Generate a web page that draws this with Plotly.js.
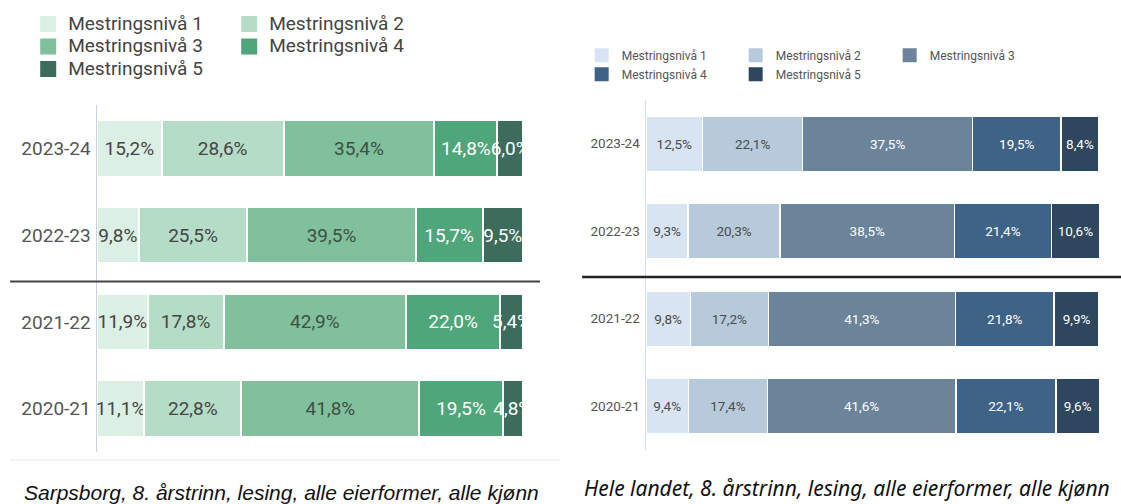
<!DOCTYPE html>
<html>
<head>
<meta charset="utf-8">
<script src="https://cdn.plot.ly/plotly-3.0.1.min.js"></script>
<style>
  html, body { margin: 0; padding: 0; background: #fff; width: 1121px; height: 504px; overflow: hidden; }
  #left { position: absolute; left: 0; top: 0; width: 560px; height: 504px; }
  #right { position: absolute; left: 560px; top: 0; width: 561px; height: 504px; }
</style>
</head>
<body>
<div id="left"></div>
<div id="right"></div>
<script>
// ---- data ----
var years = ['2023-24', '2022-23', '2021-22', '2020-21'];
var levelNames = ['Mestringsnivå 1', 'Mestringsnivå 2', 'Mestringsnivå 3', 'Mestringsnivå 4', 'Mestringsnivå 5'];

// Sarpsborg (per year, levels 1..5 as separate series)
var sarpL1 = [15.2, 9.8, 11.9, 11.1];
var sarpL2 = [28.6, 25.5, 17.8, 22.8];
var sarpL3 = [35.4, 39.5, 42.9, 41.8];
var sarpL4 = [14.8, 15.7, 22.0, 19.5];
var sarpL5 = [6.0, 9.5, 5.4, 4.8];

// Hele landet
var landL1 = [12.5, 9.3, 9.8, 9.4];
var landL2 = [22.1, 20.3, 17.2, 17.4];
var landL3 = [37.5, 38.5, 41.3, 41.6];
var landL4 = [19.5, 21.4, 21.8, 22.1];
var landL5 = [8.4, 10.6, 9.9, 9.6];

var leftCaption = 'Sarpsborg, 8. årstrinn, lesing, alle eierformer, alle kjønn';
var rightCaption = 'Hele landet, 8. årstrinn, lesing, alle eierformer, alle kjønn';

// ---- styles ----
var greenColors = ['#dcefe4', '#b4dcc6', '#80c09d', '#4fa67b', '#3c6c5c'];
var greenText = ['#454545', '#454545', '#3f4f46', '#ffffff', '#ffffff'];
var blueColors = ['#d8e4f1', '#b7cadb', '#6b8499', '#3f6386', '#2e465e'];
var blueText = ['#4a4a4a', '#4a4a4a', '#ffffff', '#ffffff', '#ffffff'];

function makeTraces(series, colors, textColors, fontSize, lineW, swatch, legendTextSize) {
  var bars = series.map(function (vals, i) {
    return {
      type: 'bar',
      orientation: 'h',
      name: levelNames[i],
      legendgroup: 'l' + i,
      showlegend: false,
      x: vals,
      y: years,
      marker: { color: colors[i], line: { color: '#ffffff', width: lineW } },
      texttemplate: '%{x:.1f}%',
      textposition: 'inside',
      insidetextanchor: 'middle',
      constraintext: 'none',
      textangle: 0,
      cliponaxis: true,
      textfont: { family: 'Roboto, sans-serif', size: fontSize, color: textColors[i] },
      hoverinfo: 'skip'
    };
  });
  // legend-only entries (no data) so the swatch can be drawn larger
  var keys = levelNames.map(function (nm, i) {
    return {
      type: 'scatter', mode: 'markers',
      name: legendTextSize ? '<span style="font-size:' + legendTextSize + 'px">' + nm + '</span>' : nm,
      legendgroup: 'l' + i,
      x: [null], y: [null], showlegend: true, hoverinfo: 'skip',
      marker: { symbol: 'square', size: swatch, color: colors[i], line: { width: 0 } }
    };
  });
  return bars.concat(keys);
}

var leftTraces = makeTraces([sarpL1, sarpL2, sarpL3, sarpL4, sarpL5], greenColors, greenText, 19, 2, 16, 19);
var rightTraces = makeTraces([landL1, landL2, landL3, landL4, landL5], blueColors, blueText, 13.5, 1.5, 14, null);

var leftLayout = {
  width: 560, height: 504,
  margin: { l: 97, r: 37, t: 105, b: 52, autoexpand: false },
  paper_bgcolor: '#ffffff', plot_bgcolor: '#ffffff',
  barmode: 'stack',
  bargap: 0.35,
  separators: ', ',
  showlegend: true,
  legend: {
    orientation: 'h', traceorder: 'normal',
    x: -0.1615, xanchor: 'left', y: 1.28, yanchor: 'top',
    entrywidth: 156,
    font: { family: 'Roboto, sans-serif', size: 15, color: '#444' },
    bgcolor: 'rgba(0,0,0,0)'
  },
  xaxis: { range: [0, 100], showgrid: false, zeroline: false, showticklabels: false, showline: false, fixedrange: true },
  yaxis: {
    type: 'category', range: [3.5, -0.5],
    showgrid: false, zeroline: false, showline: true, linecolor: '#c9d3e0', linewidth: 1.5,
    ticks: '', ticklabelstandoff: 1,
    tickfont: { family: 'Roboto, sans-serif', size: 19, color: '#555' }
  },
  shapes: [
    { type: 'line', xref: 'paper', yref: 'y', x0: -0.204, x1: 1.04, y0: 1.535, y1: 1.535, line: { color: '#444', width: 2 } },
    { type: 'line', xref: 'paper', yref: 'paper', x0: -0.204, x1: 1.1, y0: -0.023, y1: -0.023, line: { color: '#e6e6e6', width: 1 } }
  ],
  annotations: [
    { xref: 'paper', yref: 'paper', x: 0.432, y: -0.118, xanchor: 'center', yanchor: 'middle', showarrow: false,
      text: '<i>' + leftCaption + '</i>',
      font: { family: 'Liberation Sans, Arial, sans-serif', size: 21, color: '#111' } }
  ]
};

var rightLayout = {
  width: 561, height: 504,
  margin: { l: 86, r: 22, t: 100, b: 54, autoexpand: false },
  paper_bgcolor: '#ffffff', plot_bgcolor: '#ffffff',
  barmode: 'stack',
  bargap: 0.37,
  separators: ', ',
  showlegend: true,
  legend: {
    orientation: 'h', traceorder: 'normal',
    x: -0.142, xanchor: 'left', y: 1.169, yanchor: 'top',
    entrywidth: 109,
    font: { family: 'Roboto, sans-serif', size: 12, color: '#555' },
    bgcolor: 'rgba(0,0,0,0)'
  },
  xaxis: { range: [0, 100], showgrid: false, zeroline: false, showticklabels: false, showline: false, fixedrange: true },
  yaxis: {
    type: 'category', range: [3.5, -0.5],
    showgrid: false, zeroline: false, showline: true, linecolor: '#d3deeb', linewidth: 1.5,
    ticks: '', ticklabelstandoff: 2,
    tickfont: { family: 'Roboto, sans-serif', size: 13.5, color: '#555' }
  },
  shapes: [
    { type: 'line', xref: 'paper', yref: 'y', x0: -0.141, x1: 1.06, y0: 1.523, y1: 1.523, line: { color: '#222', width: 2.5 } }
  ],
  annotations: [
    { xref: 'paper', yref: 'paper', x: 0.443, y: -0.109, xanchor: 'center', yanchor: 'middle', showarrow: false,
      text: '<i>' + rightCaption + '</i>',
      font: { family: 'Noto Sans, Open Sans, sans-serif', size: 21, color: '#111' } }
  ]
};

var cfg = { staticPlot: true, displayModeBar: false };
Plotly.newPlot('left', leftTraces, leftLayout, cfg);
Plotly.newPlot('right', rightTraces, rightLayout, cfg);
</script>
</body>
</html>
